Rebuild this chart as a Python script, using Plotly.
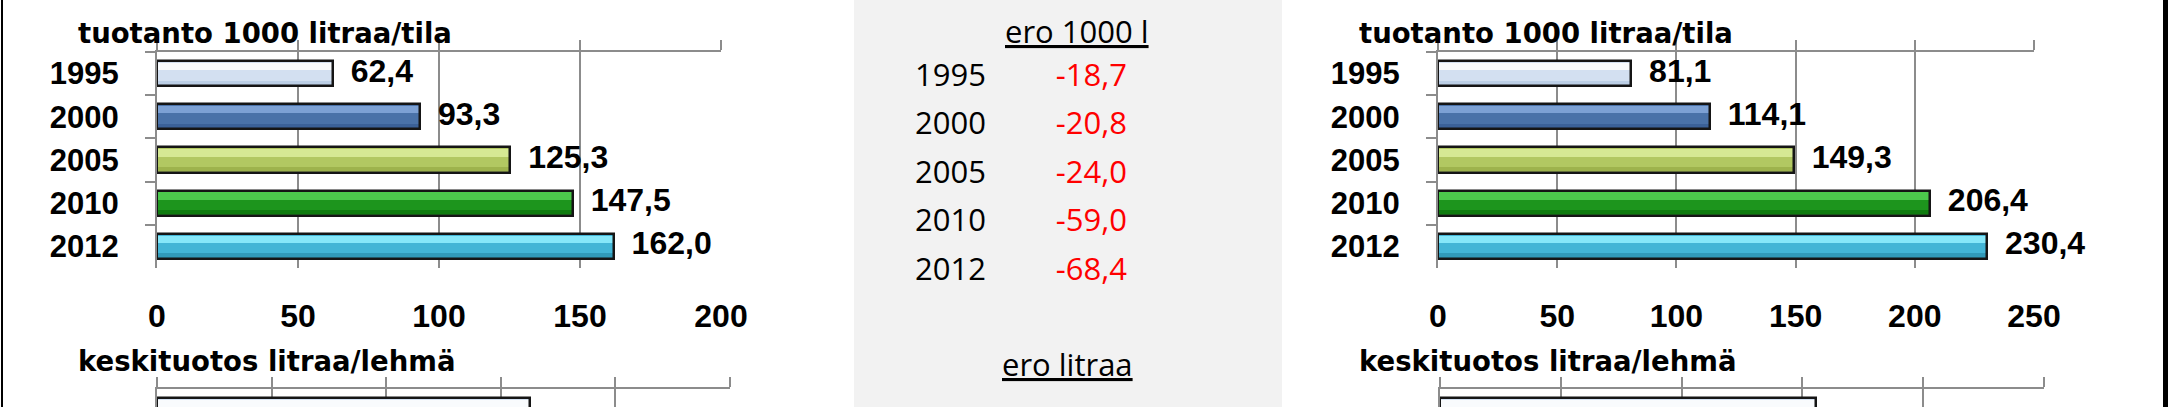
import plotly.graph_objects as go

# ---------------- data ----------------
years = ["1995", "2000", "2005", "2010", "2012"]
prod_left = [62.4, 93.3, 125.3, 147.5, 162.0]      # tuotanto 1000 litraa/tila (left)
prod_right = [81.1, 114.1, 149.3, 206.4, 230.4]    # tuotanto 1000 litraa/tila (right)
ero_1000l = [-18.7, -20.8, -24.0, -59.0, -68.4]     # ero 1000 l
yield_years = ["1995"]                              # only first row visible
yield_left = [6503]                                 # keskituotos litraa/lehmä (left)
yield_right = [6229]                                # keskituotos litraa/lehmä (right)

title_prod = "tuotanto 1000 litraa/tila"
title_yield = "keskituotos litraa/lehmä"
head_ero1 = "ero 1000 l"
head_ero2 = "ero litraa"

# ---------------- styles ----------------
W, H = 2168, 407
GRID = "#8c8c8c"
NUM_FONT = "Liberation Sans"
TITLE_FONT = "DejaVu Sans"
MID_FONT = "Open Sans"
fill_main = ["#d3e0f1", "#4a72a8", "#b2c862", "#1d951d", "#43b5d6"]
fill_hi = ["#ffffff", "#86a9dc", "#dcee9e", "#55d455", "#92f0ff"]
fill_lo = ["#b6cbe4", "#375d93", "#98ae48", "#0c760c", "#2d93b2"]
NBSP = "\u00a0"


def fx(px):
    return px / W


def fy(py):
    return 1 - py / H


def fmt_dec(v):
    return f"{v:.1f}".replace(".", ",")


def fmt_int(v):
    return f"{v:,}".replace(",", NBSP)


fig = go.Figure()
layout = {}
axis_no = [0]


def new_axes():
    axis_no[0] += 1
    return axis_no[0]


def add_panel(cats, vals, labels, box, xmax, dtick, partial=False):
    x0, x1, y0, y1 = box
    a = new_axes()          # main x/y
    b = new_axes()          # overlay x (top line + ticks)
    xa, xb, ya = f"x{a}", f"x{b}", f"y{a}"
    n = len(cats)
    if partial:
        cat_h = 43.2
        vis = (y1 - y0) / cat_h
        yrange = [-0.5 + vis, -0.5]
    else:
        yrange = [n - 0.5, -0.5]
    layout[f"xaxis{a}"] = dict(
        domain=[fx(x0), fx(x1)], range=[0, xmax], dtick=dtick, anchor=ya,
        showgrid=True, gridcolor=GRID, gridwidth=2, zeroline=False,
        showline=False, ticks="", showticklabels=not partial, side="bottom",
        tickfont=dict(family=NUM_FONT, size=32, color="black", weight="bold"),
        ticklabelstandoff=26, fixedrange=True, automargin=False,
    )
    layout[f"xaxis{b}"] = dict(
        overlaying=xa, range=[0, xmax], dtick=dtick, anchor=ya, side="top",
        showgrid=False, zeroline=False, showline=True, linecolor=GRID,
        linewidth=2, ticks="outside", ticklen=10, tickwidth=2, tickcolor=GRID,
        showticklabels=False, fixedrange=True, automargin=False,
    )
    layout[f"yaxis{a}"] = dict(
        domain=[fy(y1), fy(y0)], type="category", categoryorder="array",
        categoryarray=cats, range=yrange, anchor=xa, showgrid=False,
        showline=True, linecolor=GRID, linewidth=2, ticks="outside",
        tickson="boundaries", ticklen=10, tickwidth=2, tickcolor=GRID,
        showticklabels=not partial, ticklabelstandoff=30,
        tickfont=dict(family=NUM_FONT, size=31, color="black", weight="bold"),
        fixedrange=True, automargin=False,
    )
    # invisible trace so overlay axis subplot exists
    fig.add_trace(go.Scatter(x=[0], y=[cats[0]], xaxis=xb, yaxis=ya,
                             mode="markers", marker=dict(opacity=0),
                             hoverinfo="skip", showlegend=False))
    k = len(vals)
    fig.add_trace(go.Bar(x=vals, y=cats, orientation="h", width=0.58,
                         marker=dict(color=fill_main[:k], line=dict(width=0)),
                         xaxis=xa, yaxis=ya, showlegend=False, hoverinfo="skip"))
    fig.add_trace(go.Bar(x=vals, y=cats, orientation="h", width=0.17, offset=-0.25,
                         marker=dict(color=fill_hi[:k], line=dict(width=0), opacity=0.85),
                         xaxis=xa, yaxis=ya, showlegend=False, hoverinfo="skip"))
    fig.add_trace(go.Bar(x=vals, y=cats, orientation="h", width=0.1, offset=0.16,
                         marker=dict(color=fill_lo[:k], line=dict(width=0), opacity=0.8),
                         xaxis=xa, yaxis=ya, showlegend=False, hoverinfo="skip"))
    fig.add_trace(go.Bar(x=vals, y=cats, orientation="h", width=0.58,
                         marker=dict(color="rgba(0,0,0,0)",
                                     line=dict(width=2.5, color="#151515")),
                         xaxis=xa, yaxis=ya, showlegend=False, hoverinfo="skip"))
    # data labels
    fig.add_trace(go.Scatter(x=vals, y=cats, mode="text",
                             text=[NBSP * 2 + t for t in labels],
                             textposition="middle right", cliponaxis=False,
                             textfont=dict(family=NUM_FONT, size=32, color="black",
                                           weight="bold"),
                             xaxis=xa, yaxis=ya, showlegend=False, hoverinfo="skip"))
    if partial:
        fig.add_trace(go.Scatter(x=[0] * len(cats), y=cats, mode="text",
                                 text=[t + NBSP * 4 for t in cats],
                                 textposition="middle left", cliponaxis=False,
                                 textfont=dict(family=NUM_FONT, size=31, color="black",
                                               weight="bold"),
                                 xaxis=xa, yaxis=ya, showlegend=False, hoverinfo="skip"))


add_panel(years, prod_left, [fmt_dec(v) for v in prod_left],
          (157, 721, 52, 268), 200, 50)
add_panel(years, prod_right, [fmt_dec(v) for v in prod_right],
          (1438, 2034, 52, 268), 250, 50)
add_panel(yield_years, yield_left, [fmt_int(v) for v in yield_left],
          (157, 730, 389, 407), 10000, 2000, partial=True)
add_panel(yield_years, yield_right, [fmt_int(v) for v in yield_right],
          (1440, 2044, 389, 407), 10000, 2000, partial=True)

# ---------------- middle table ----------------
m = new_axes()
layout[f"xaxis{m}"] = dict(domain=[fx(854), fx(1282)], range=[854, 1282],
                           visible=False, anchor=f"y{m}", fixedrange=True)
layout[f"yaxis{m}"] = dict(domain=[fy(296.25), fy(53.75)], type="category",
                           categoryorder="array", categoryarray=years,
                           range=[len(years) - 0.5, -0.5], visible=False,
                           anchor=f"x{m}", fixedrange=True)
fig.add_trace(go.Scatter(x=[915] * len(years), y=years, mode="text", text=years,
                         textposition="middle right", cliponaxis=False,
                         textfont=dict(family=MID_FONT, size=31, color="black"),
                         xaxis=f"x{m}", yaxis=f"y{m}", showlegend=False, hoverinfo="skip"))
fig.add_trace(go.Scatter(x=[1127] * len(years), y=years, mode="text",
                         text=[fmt_dec(v) for v in ero_1000l],
                         textposition="middle left", cliponaxis=False,
                         textfont=dict(family=MID_FONT, size=31, color="#ff0000"),
                         xaxis=f"x{m}", yaxis=f"y{m}", showlegend=False, hoverinfo="skip"))

annotations = [
    dict(text=f"<u>{head_ero1}</u>", x=fx(1077), y=fy(31), xref="paper", yref="paper",
         xanchor="center", yanchor="middle", showarrow=False,
         font=dict(family=MID_FONT, size=31, color="black")),
    dict(text=f"<u>{head_ero2}</u>", x=fx(1067), y=fy(364), xref="paper", yref="paper",
         xanchor="center", yanchor="middle", showarrow=False,
         font=dict(family=MID_FONT, size=31, color="black")),
]
for xl in (76, 1357):
    annotations.append(dict(text=title_prod, x=fx(xl), y=fy(32.5), xref="paper",
                            yref="paper", xanchor="left", yanchor="middle",
                            showarrow=False,
                            font=dict(family=TITLE_FONT, size=27.5, color="black",
                                      weight="bold")))
    annotations.append(dict(text=title_yield, x=fx(xl), y=fy(360.5), xref="paper",
                            yref="paper", xanchor="left", yanchor="middle",
                            showarrow=False,
                            font=dict(family=TITLE_FONT, size=27.5, color="black",
                                      weight="bold")))

shapes = [
    dict(type="rect", xref="paper", yref="paper", x0=fx(854), x1=fx(1282), y0=0, y1=1,
         fillcolor="#f2f2f2", line=dict(width=0), layer="below"),
    dict(type="rect", xref="paper", yref="paper", x0=fx(1), x1=fx(3), y0=0, y1=1,
         fillcolor="black", line=dict(width=0), layer="above"),
    dict(type="rect", xref="paper", yref="paper", x0=fx(2163), x1=1, y0=0, y1=1,
         fillcolor="black", line=dict(width=0), layer="above"),
]

fig.update_layout(
    width=W, height=H, margin=dict(l=0, r=0, t=0, b=0, pad=0, autoexpand=False),
    paper_bgcolor="white", plot_bgcolor="rgba(0,0,0,0)",
    barmode="overlay", bargap=0, showlegend=False,
    annotations=annotations, shapes=shapes, **layout,
)
fig.write_html(
    "out.html",
    config={"displayModeBar": False, "responsive": False},
    post_script=(
        "document.documentElement.style.margin='0';"
        "document.documentElement.style.overflow='hidden';"
        "document.body.style.margin='0';document.body.style.overflow='hidden';"
        "var gd=document.getElementById('{plot_id}');"
        "gd.style.position='absolute';gd.style.left='0px';gd.style.top='0px';"
    ),
)
